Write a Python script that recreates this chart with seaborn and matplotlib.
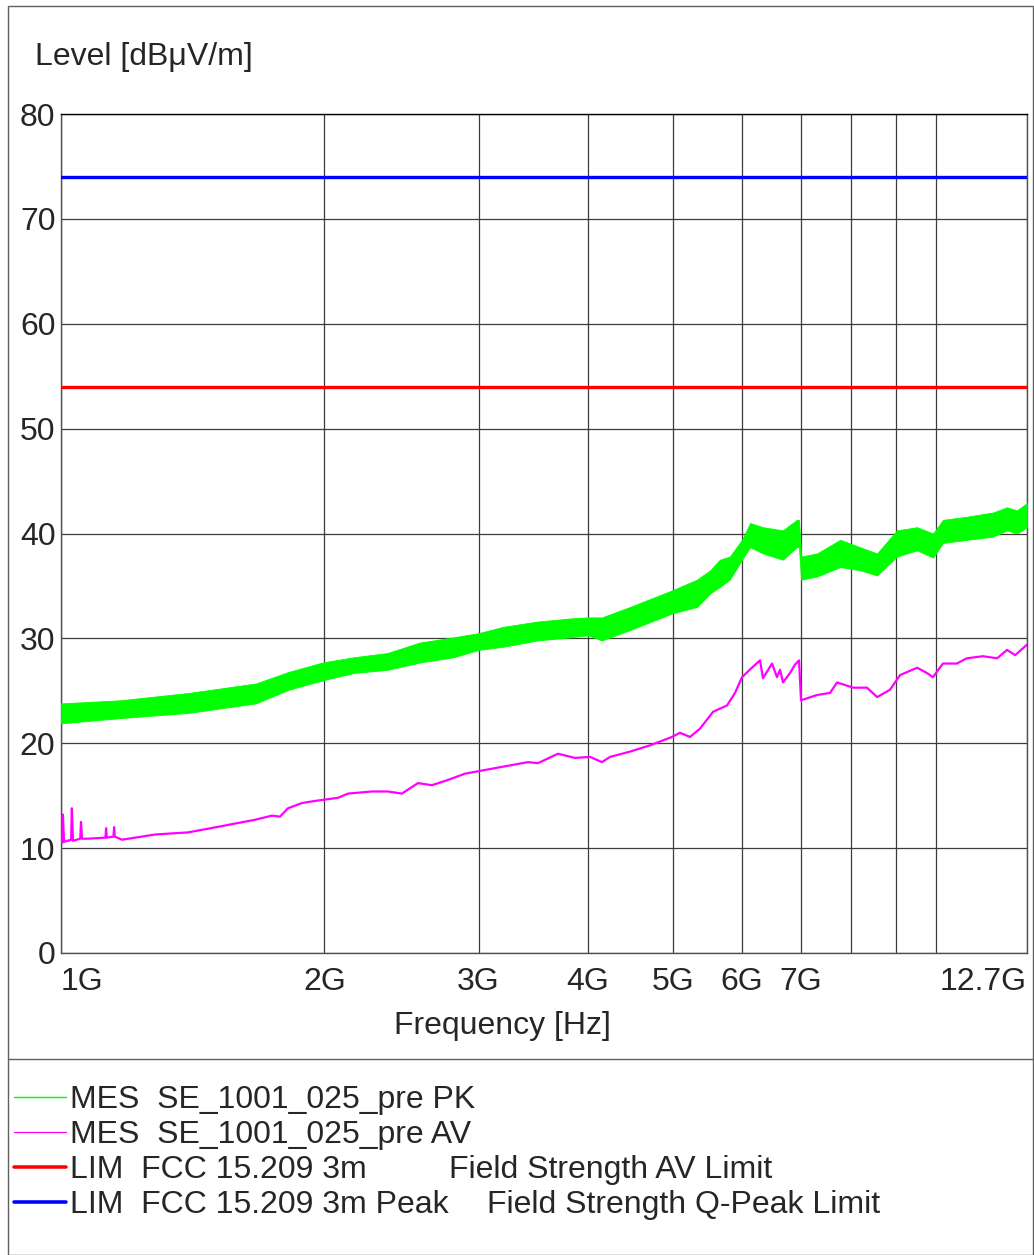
import matplotlib
matplotlib.use("Agg")
import numpy as np
import pandas as pd
import matplotlib.pyplot as plt
import seaborn as sns
from matplotlib.patches import Rectangle
from matplotlib.lines import Line2D

# ---- data (frequency in GHz, level in dBuV/m) ----
pk_freq = [1.00, 1.17, 1.40, 1.67, 1.82, 1.99, 2.16, 2.36, 2.57, 2.81, 3.00,
           3.20, 3.50, 3.82, 4.00, 4.15, 4.47, 5.00, 5.33, 5.52, 5.66, 5.81,
           6.00, 6.13, 6.34, 6.68, 6.93, 6.97, 7.01, 7.31, 7.77, 8.18, 8.56,
           9.02, 9.51, 9.92, 10.18, 10.84, 11.61, 12.05, 12.37, 12.70]
pk_hi = [23.8, 24.1, 24.8, 25.7, 26.8, 27.7, 28.2, 28.6, 29.6, 30.1, 30.5,
         31.1, 31.6, 31.9, 32.0, 32.0, 33.0, 34.6, 35.6, 36.5, 37.5, 37.8,
         39.4, 41.0, 40.6, 40.3, 41.3, 41.3, 37.8, 38.1, 39.4, 38.7, 38.1,
         40.3, 40.6, 40.0, 41.3, 41.6, 42.0, 42.5, 42.2, 42.9]
pk_lo = [21.9, 22.4, 22.9, 23.8, 25.1, 26.0, 26.7, 27.0, 27.7, 28.2, 28.9,
         29.2, 29.8, 30.1, 30.3, 29.8, 30.8, 32.4, 33.0, 34.3, 34.9, 35.6,
         37.5, 38.7, 38.1, 37.5, 38.7, 38.7, 35.6, 35.9, 36.8, 36.5, 36.0,
         37.8, 38.4, 37.7, 39.1, 39.4, 39.7, 40.3, 40.0, 40.6]

av_freq = [1.000, 1.003, 1.005, 1.008, 1.027, 1.029, 1.032, 1.052, 1.054,
           1.057, 1.074, 1.124, 1.126, 1.128, 1.148, 1.150, 1.152, 1.174,
           1.281, 1.397, 1.461, 1.527, 1.594, 1.666, 1.742, 1.779, 1.817,
           1.885, 1.951, 2.073, 2.128, 2.265, 2.364, 2.452, 2.558, 2.654,
           2.768, 2.895, 3.074, 3.215, 3.417, 3.508, 3.697, 3.867, 4.022,
           4.151, 4.240, 4.468, 4.710, 4.990, 5.096, 5.233, 5.373, 5.560,
           5.768, 5.891, 6.000, 6.176, 6.291, 6.341, 6.493, 6.579, 6.631,
           6.684, 6.808, 6.898, 6.971, 7.008, 7.310, 7.564, 7.705, 8.036,
           8.337, 8.562, 8.857, 9.093, 9.512, 9.760, 9.916, 10.18, 10.56,
           10.84, 11.31, 11.74, 12.05, 12.31, 12.70]
av_level = [10.6, 10.5, 13.2, 10.6, 10.8, 13.8, 10.7, 10.9, 12.5,
            10.9, 10.9, 11.0, 11.9, 11.0, 11.1, 12.0, 11.1, 10.8,
            11.3, 11.5, 11.8, 12.1, 12.4, 12.7, 13.1, 13.0, 13.8,
            14.3, 14.5, 14.8, 15.2, 15.4, 15.4, 15.2, 16.2, 16.0,
            16.5, 17.1, 17.5, 17.8, 18.2, 18.1, 19.0, 18.6, 18.7,
            18.2, 18.7, 19.2, 19.8, 20.6, 21.0, 20.6, 21.4, 23.0,
            23.6, 24.8, 26.3, 27.3, 27.9, 26.2, 27.6, 26.3, 27.0,
            25.8, 26.7, 27.5, 27.9, 24.1, 24.6, 24.8, 25.8, 25.3,
            25.3, 24.4, 25.1, 26.5, 27.2, 26.7, 26.3, 27.6, 27.6,
            28.1, 28.3, 28.1, 28.9, 28.4, 29.4]

lim_freq = [1.0, 12.7]
lim_av = [54, 54]
lim_peak = [74, 74]

x_ticks = [1, 2, 3, 4, 5, 6, 7, 12.7]
x_tick_labels = ["1G", "2G", "3G", "4G", "5G", "6G", "7G", "12.7G"]
x_minor = [8, 9, 10]
y_ticks = list(range(0, 81, 10))

legend_rows = [
    ("MES  SE_1001_025_pre PK", "", "#00ff00", 1.4),
    ("MES  SE_1001_025_pre AV", "", "#ff00ff", 1.2),
    ("LIM  FCC 15.209 3m", "Field Strength AV Limit", "#ff0000", 3.4),
    ("LIM  FCC 15.209 3m Peak", "Field Strength Q-Peak Limit", "#0000ff", 3.4),
]

sns.set_style("white")
plt.rcParams["font.family"] = ["Liberation Sans", "DejaVu Sans"]
FS = 23

W, H = 1034, 1255
fig = plt.figure(figsize=(W / 100, H / 100), dpi=100)
ax = fig.add_axes([61 / W, (H - 953) / H, 966 / W, 839 / H])

pk = pd.DataFrame({"freq": pk_freq, "lo": pk_lo, "hi": pk_hi})
av = pd.DataFrame({"freq": av_freq, "level": av_level})
lim = pd.DataFrame({"freq": lim_freq, "av": lim_av, "peak": lim_peak})

# peak trace drawn as its noise envelope
ax.fill_between(pk["freq"], pk["lo"], pk["hi"], color="#00ff00", lw=0.6,
                edgecolor="#00ff00", zorder=3)
sns.lineplot(data=av, x="freq", y="level", ax=ax, color="#ff00ff", lw=1.6,
             estimator=None, sort=False, zorder=3)
sns.lineplot(data=lim, x="freq", y="av", ax=ax, color="#ff0000", lw=2.4,
             estimator=None, zorder=4)
sns.lineplot(data=lim, x="freq", y="peak", ax=ax, color="#0000ff", lw=2.4,
             estimator=None, zorder=4)

ax.set_xscale("log")
ax.set_xlim(1, 12.7)
ax.set_ylim(0, 80)
ax.set_xticks(x_ticks)
ax.set_xticklabels(x_tick_labels)
ax.set_xticks(x_minor, minor=True)
ax.set_xticklabels([], minor=True)
ax.set_yticks(y_ticks)
ax.set_xlabel("")
ax.set_ylabel("")
ax.tick_params(axis="both", which="both", length=0, labelsize=FS)
ax.tick_params(axis="x", pad=10)
ax.tick_params(axis="y", pad=4)
ax.grid(True, which="both", color="#3c3c3c", lw=0.9, zorder=1)
ax.set_axisbelow(True)
for s in ax.spines.values():
    s.set_color("#505050")
    s.set_linewidth(1.0)
ax.spines["top"].set_color("black")

labs = ax.get_xticklabels()
labs[0].set_ha("left")
labs[-1].set_ha("right")

fig.text(35 / W, 1 - 57 / H, "Level [dBμV/m]", fontsize=FS, ha="left", va="center")
fig.text(502 / W, 1 - 1026 / H, "Frequency [Hz]", fontsize=FS, ha="center", va="center")

# frame around the whole sheet and separator above the legend
fig.patches.append(Rectangle((8 / W, 0), (1033 - 8) / W, (H - 6) / H,
                             transform=fig.transFigure, fill=False,
                             edgecolor="#606060", lw=1.0))
fig.add_artist(Line2D([8 / W, 1], [1 - 1059 / H] * 2, color="#606060", lw=1.0))

row_y = [1100, 1135, 1170, 1205]
for (txt1, txt2, col, lw), yy in zip(legend_rows, row_y):
    yf = 1 - yy / H
    fig.add_artist(Line2D([14 / W, 66 / W], [yf + 3 / H] * 2, color=col, lw=lw * 0.75))
    fig.text(70 / W, yf, txt1, fontsize=FS, ha="left", va="center")
    if txt2:
        x2 = 449 if "AV" in txt2 else 487
        fig.text(x2 / W, yf, txt2, fontsize=FS, ha="left", va="center")

fig.savefig("out.png", dpi=100)
